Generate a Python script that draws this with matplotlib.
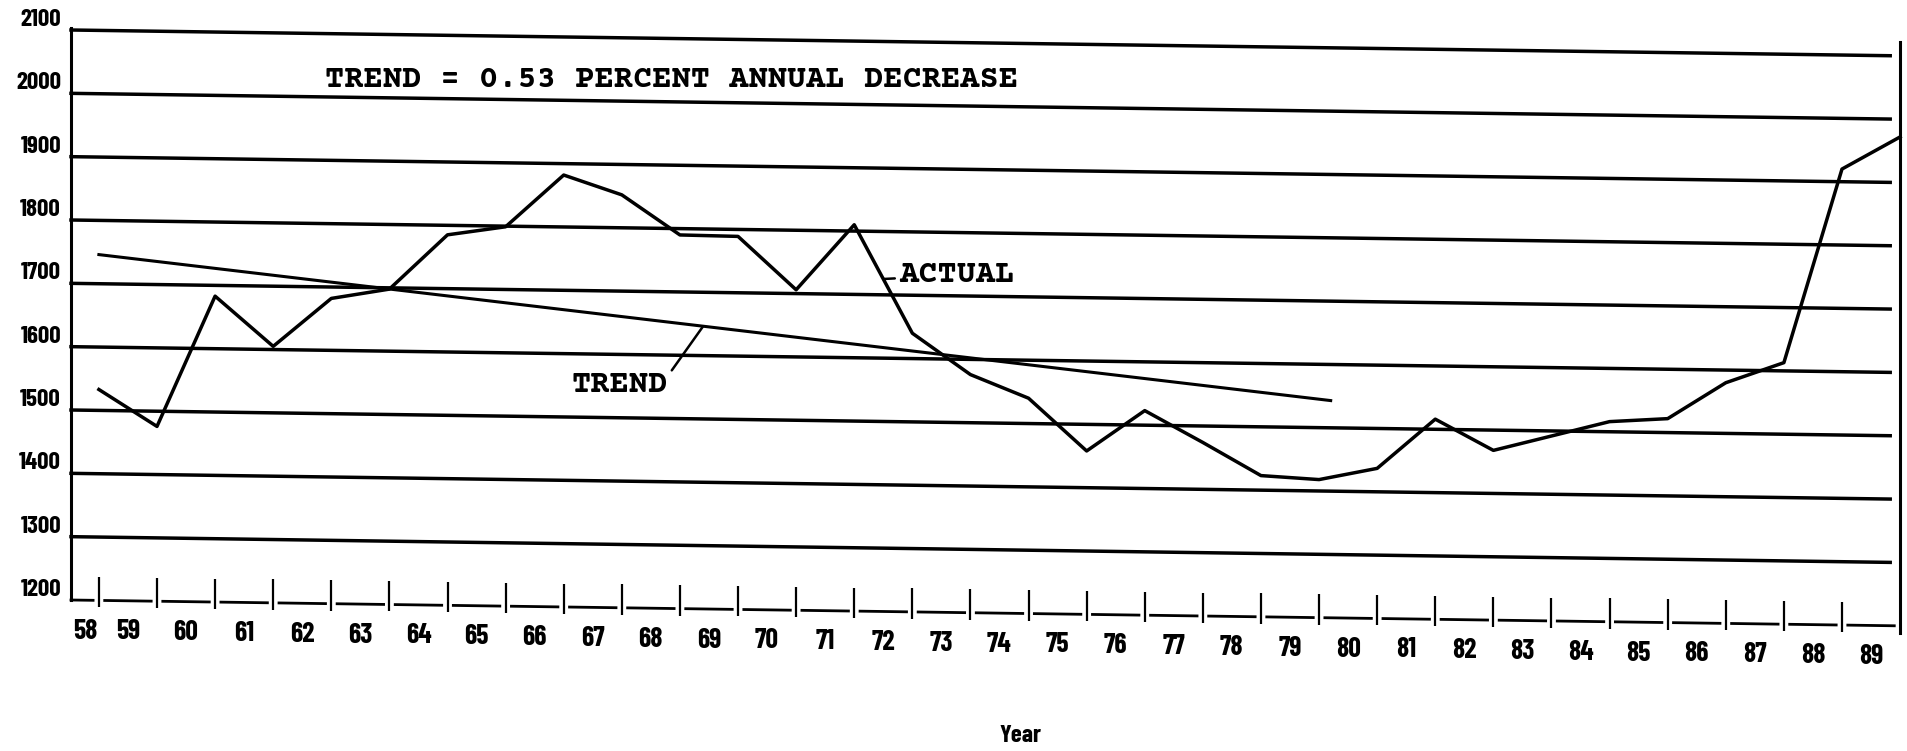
import matplotlib
matplotlib.use('Agg')
import matplotlib.pyplot as plt
import matplotlib.transforms as mtransforms
from matplotlib import font_manager
import numpy as np

# yearly series, 1958-1989
years = list(range(1958, 1990))
year_labels = [str(y)[2:] for y in years]
actual = [1533, 1476, 1683, 1605, 1682, 1698, 1785, 1799, 1882, 1852,
          1790, 1789, 1706, 1810, 1640, 1576, 1540, 1458, 1523, 1474,
          1423, 1418, 1437, 1516, 1468, 1492, 1516, 1522, 1580, 1613,
          1920, 1972]
trend_years = [1958, 1979.2]
trend_values = [1746, 1543]
y_levels = [1200, 1300, 1400, 1500, 1600, 1700, 1800, 1900, 2000, 2100]

installed = {f.name for f in font_manager.fontManager.ttflist}


def pick(names, fallback):
    return next((n for n in names if n in installed), fallback)


label_font = dict(family=pick(['Barlow Condensed', 'Liberation Sans Narrow'], 'DejaVu Sans'),
                  fontweight='bold')
mono_font = dict(family=pick(['Courier Prime', 'Liberation Mono'], 'DejaVu Sans Mono'),
                 fontweight='bold')

fig = plt.figure(figsize=(19.08, 7.51), dpi=100)
ax = fig.add_axes([71 / 1908, 152 / 751, 1832 / 1908, 570 / 751])
x0 = years[0] - 0.48
ax.set_xlim(x0, years[-1] + 0.05)
ax.set_ylim(y_levels[0], y_levels[-1])
ax.axis('off')

# the sheet sits a little crooked, everything runs slightly downhill
tilt = mtransforms.Affine2D().skew_deg(0, -0.81)
tr = ax.transData + tilt

ink = 'black'
common = dict(transform=tr, color=ink, clip_on=False)

# horizontal rules
for v in y_levels[1:]:
    ax.plot([x0, years[-1] - 0.17], [v, v], lw=2.5, **common)

# left and right borders
ax.plot([x0, x0], [y_levels[0], y_levels[-1] + 3], lw=2.2, **common)
ax.plot([years[-1], years[-1]], [1189, 2122], lw=2.2, **common)

# broken base line with year ticks  |___|___|
ax.plot([x0, years[0] - 0.1], [y_levels[0], y_levels[0]], lw=2.0, **common)
for yr in years[:-1]:
    ax.plot([yr + 0.1, yr + 0.9], [y_levels[0], y_levels[0]], lw=2.0, **common)
ax.vlines(years[:-1], 1189, 1237, lw=1.6, **common)

# data
ax.plot(years, actual, lw=2.5, solid_joinstyle='round', **common)
ax.plot(trend_years, trend_values, lw=2.2, **common)

# axis labels
for v in y_levels:
    ax.annotate(str(v), xy=(x0, v), xycoords=tr, xytext=(-10, 10),
                textcoords='offset pixels', ha='right', va='center',
                fontsize=18, **label_font)
for i, (yr, lab) in enumerate(zip(years, year_labels)):
    pos = (x0 + yr) / 2 if i == 0 else yr - 0.5
    ax.annotate(lab, xy=(pos, y_levels[0]), xycoords=tr, xytext=(0, -31),
                textcoords='offset pixels', ha='center', va='center',
                fontsize=20, **label_font)
fig.text(1020 / 1908, 1 - 736 / 751, 'Year', ha='center', va='center',
         fontsize=18, **label_font)

# notes
ax.text(1961.9, 2028, 'TREND = 0.53 PERCENT ANNUAL DECREASE', transform=tr,
        ha='left', va='center', fontsize=23, **mono_font)

x_act = 1971.5
ax.annotate('ACTUAL', xy=(x_act, np.interp(x_act, years, actual)), xycoords=tr,
            xytext=(1971.77, 1733), textcoords=tr, ha='left', va='center',
            fontsize=23, **mono_font,
            arrowprops=dict(arrowstyle='-', lw=1.8, color=ink,
                            relpos=(0, 0.35), shrinkA=1, shrinkB=0))

x_tr = 1968.4
ax.annotate('TREND', xy=(x_tr, np.interp(x_tr, trend_years, trend_values)), xycoords=tr,
            xytext=(1966.97, 1552), textcoords=tr, ha='center', va='center',
            fontsize=23, **mono_font,
            arrowprops=dict(arrowstyle='-', lw=1.8, color=ink,
                            relpos=(1, 0.85), shrinkA=1, shrinkB=0))

fig.savefig('out.png', dpi=100, facecolor='white')
